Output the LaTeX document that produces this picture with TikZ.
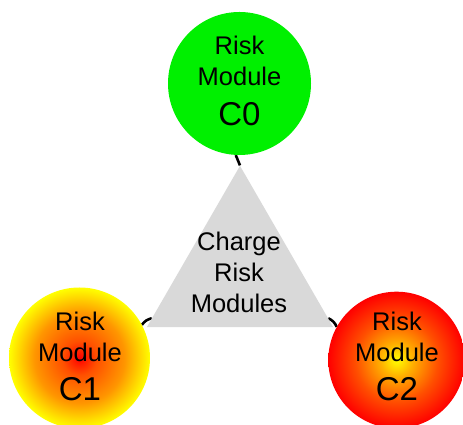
\documentclass[tikz,border=0pt]{standalone}
\usepackage{fontspec}
\setmainfont{Liberation Sans}
\usetikzlibrary{shapes.geometric,backgrounds}
\definecolor{modgreen}{RGB}{0,240,0}
\definecolor{trigray}{RGB}{217,217,217}
\definecolor{deeporange}{RGB}{255,80,0}
\definecolor{midorange}{RGB}{255,150,0}
\definecolor{paleorange}{RGB}{255,175,0}
% red core fading to a yellow rim
\pgfdeclareradialshading{hotcore}{\pgfpoint{0bp}{0bp}}{color(0bp)=(red); color(6bp)=(deeporange); color(16bp)=(midorange); color(25bp)=(yellow); color(50bp)=(yellow)}
% yellow core fading to a red rim
\pgfdeclareradialshading{warmcore}{\pgfpoint{0bp}{0bp}}{color(0bp)=(yellow); color(6bp)=(paleorange); color(15bp)=(deeporange); color(25bp)=(red); color(50bp)=(red)}
\begin{document}
\begin{tikzpicture}[x=1pt,y=1pt,
  module/.style={circle,inner sep=0pt},
  hub/.style={regular polygon,regular polygon sides=3,fill=trigray,inner sep=0pt,minimum size=215pt},
  caption/.style={font=\fontsize{25.5}{31}\selectfont,align=center,inner sep=0pt},
  conn/.style={line width=2.6pt,black}]
\useasboundingbox (0,0) rectangle (463,425);

% shapes
\node[module,fill=modgreen,minimum size=143pt] (c0) at (239.5,341.5) {};
\node[module,shading=hotcore,minimum size=141pt] (c1) at (79.5,67) {};
\node[module,shading=warmcore,minimum size=136.6pt] (c2) at (396.6,65) {};
\node[hub] (tri) at (240,151.7) {};

% texts
\node[caption] (c0t) at (239.5,344.5) {Risk\\Module\\[9pt]{\fontsize{33}{33}\selectfont C0}};
\node[caption] (c1t) at (80,69) {Risk\\Module\\[8pt]{\fontsize{33}{33}\selectfont C1}};
\node[caption] (c2t) at (397,69) {Risk\\Module\\[8pt]{\fontsize{33}{33}\selectfont C2}};
\node[caption] (trit) at (239,153) {Charge\\Risk\\Modules};

% connectors behind the shapes
\begin{scope}[on background layer]
\draw[conn] (c0.267) -- (tri.corner 1);
\draw[conn] (c1.28) to[bend left=20] (tri.207);
\draw[conn] (c2.151) to[bend right=20] (tri.333);
\end{scope}
\end{tikzpicture}
\end{document}
